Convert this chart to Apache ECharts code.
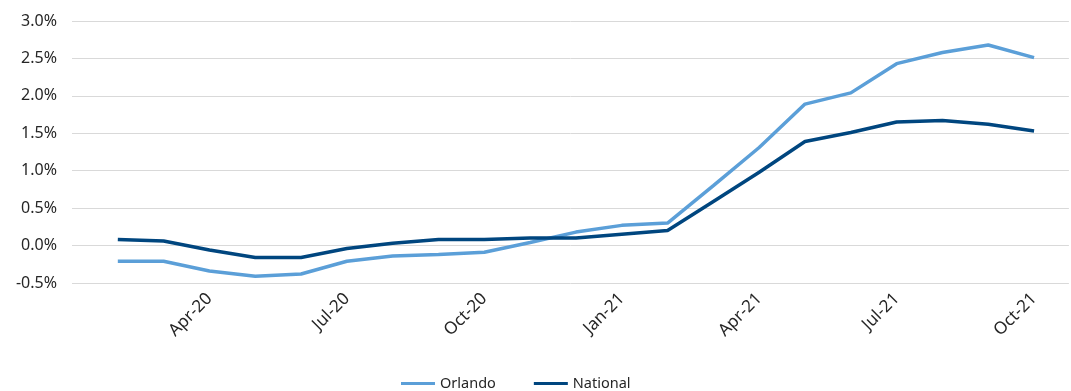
<!DOCTYPE html>
<html>
<head>
<meta charset="utf-8">
<script src="https://cdn.jsdelivr.net/npm/echarts@6/dist/echarts.min.js"></script>
<style>
  html, body { margin: 0; padding: 0; background: #fff; }
  #chart { width: 1071px; height: 391px; }
</style>
</head>
<body>
<div id="chart"></div>
<script>
// monthly, Feb-20 .. Oct-21 (axis starts one month earlier, at Jan-20)
const months = ['Feb-20', 'Mar-20', 'Apr-20', 'May-20', 'Jun-20', 'Jul-20', 'Aug-20', 'Sep-20', 'Oct-20', 'Nov-20', 'Dec-20',
  'Jan-21', 'Feb-21', 'Mar-21', 'Apr-21', 'May-21', 'Jun-21', 'Jul-21', 'Aug-21', 'Sep-21', 'Oct-21']
const orlando = [-0.21, -0.21, -0.34, -0.41, -0.38, -0.21, -0.14, -0.12, -0.09, 0.04, 0.18,
  0.27, 0.30, 0.80, 1.31, 1.89, 2.04, 2.43, 2.58, 2.68, 2.51]
const national = [0.08, 0.06, -0.06, -0.16, -0.16, -0.04, 0.03, 0.08, 0.08, 0.10, 0.10,
  0.15, 0.20, 0.59, 0.98, 1.39, 1.51, 1.65, 1.67, 1.62, 1.53]

const font = 'Noto Sans'
const toPoints = arr => arr.map((v, i) => [i + 1, v])

const chart = echarts.init(document.getElementById('chart'))
chart.setOption({
  animation: false,
  grid: { left: 72, right: 0, top: 21, bottom: 108, containLabel: false },
  legend: {
    left: 396,
    top: 371,
    itemWidth: 34,
    itemHeight: 3,
    itemGap: 38,
    icon: 'rect',
    textStyle: { fontFamily: font, fontSize: 14.5, color: '#262626' },
    data: ['Orlando', 'National']
  },
  xAxis: {
    type: 'value',
    min: 0,
    max: 21.76,
    interval: 3,
    axisLine: { show: false },
    axisTick: { show: false },
    splitLine: { show: false },
    axisLabel: {
      rotate: 45,
      margin: 13,
      fontFamily: font,
      fontSize: 17,
      color: '#262626',
      formatter: v => months[v - 1] || ''
    }
  },
  yAxis: {
    type: 'value',
    min: -0.5,
    max: 3.0,
    interval: 0.5,
    axisLine: { show: false },
    axisTick: { show: false },
    splitLine: { lineStyle: { color: '#d9d9d9', width: 1 } },
    axisLabel: {
      margin: 15,
      fontFamily: font,
      fontSize: 16,
      color: '#262626',
      formatter: v => v.toFixed(1) + '%'
    }
  },
  series: [
    {
      name: 'Orlando',
      type: 'line',
      symbol: 'none',
      data: toPoints(orlando),
      itemStyle: { color: '#5b9fd8' },
      lineStyle: { color: '#5b9fd8', width: 3.5 }
    },
    {
      name: 'National',
      type: 'line',
      symbol: 'none',
      data: toPoints(national),
      itemStyle: { color: '#00467f' },
      lineStyle: { color: '#00467f', width: 3.5 }
    }
  ]
})
</script>
</body>
</html>
